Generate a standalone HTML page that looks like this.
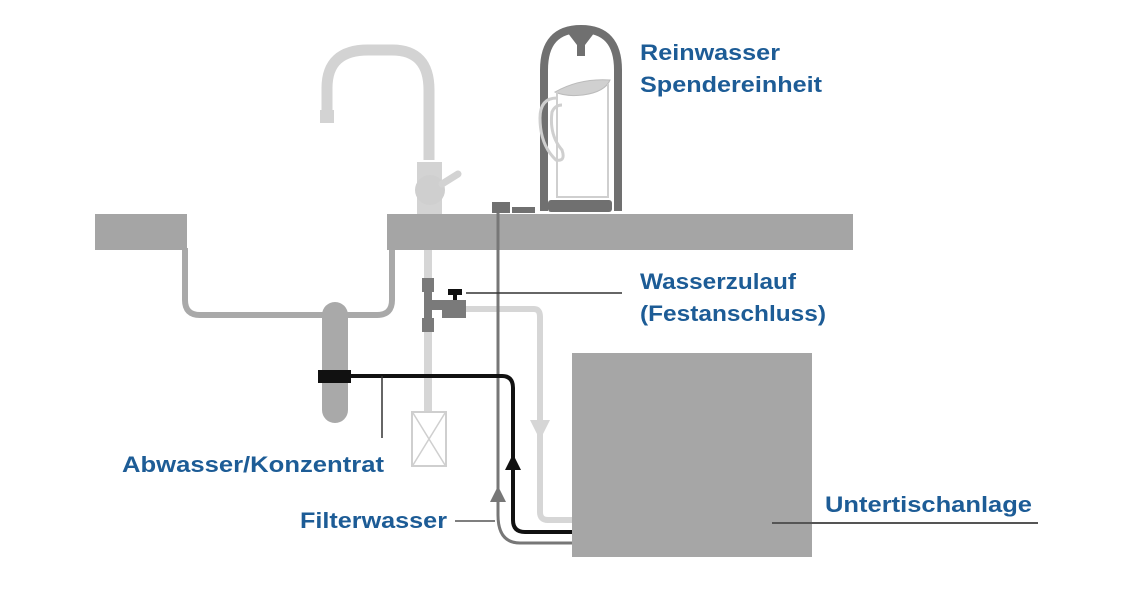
<!DOCTYPE html>
<html><head><meta charset="utf-8"><style>
html,body{margin:0;padding:0;background:#fff;}
svg{display:block;}
text{font-family:"Liberation Sans",sans-serif;font-weight:bold;fill:#1d5c96;font-size:22px;}
</style></head><body>
<svg width="1123" height="600" viewBox="0 0 1123 600" xmlns="http://www.w3.org/2000/svg">
<rect width="1123" height="600" fill="#fff"/>
<!-- sink -->
<path d="M185 248 V300 Q185 315 200 315 H377 Q392 315 392 300 V248" fill="none" stroke="#a9a9a9" stroke-width="6"/>
<path d="M335 315 V410" stroke="#a9a9a9" stroke-width="26" stroke-linecap="round"/>
<!-- counter -->
<rect x="95" y="214" width="92" height="36" fill="#a5a5a5"/>
<rect x="387" y="214" width="466" height="36" fill="#a5a5a5"/>
<!-- faucet -->
<path d="M327 112 V88 Q327 50 368 50 H392 Q429 50 429 90 V160" fill="none" stroke="#d3d3d3" stroke-width="11"/>
<rect x="320" y="110" width="14" height="13" fill="#d3d3d3"/>
<rect x="417" y="162" width="25" height="52" fill="#d3d3d3"/>
<circle cx="430" cy="190" r="15" fill="#cfcfcf"/>
<path d="M442 184 L458 174" stroke="#d3d3d3" stroke-width="7" stroke-linecap="round"/>
<!-- pipes below faucet -->
<path d="M428 250 V412" stroke="#d6d6d6" stroke-width="8"/>
<path d="M466 309 H534 Q540 309 540 317 V512 Q540 520 548 520 H572" fill="none" stroke="#d6d6d6" stroke-width="6"/>
<polygon points="530,420 550,420 540,440" fill="#d6d6d6"/>
<rect x="412" y="412" width="34" height="54" fill="#fff" stroke="#cfcfcf" stroke-width="2"/>
<path d="M413 413 L445 465 M445 413 L413 465" stroke="#cfcfcf" stroke-width="1.5"/>
<rect x="422" y="278" width="12" height="14" fill="#7a7a7a"/>
<rect x="422" y="318" width="12" height="14" fill="#7a7a7a"/>
<rect x="424" y="292" width="8" height="26" fill="#7a7a7a"/>
<rect x="432" y="300" width="10" height="10" fill="#7a7a7a"/>
<rect x="442" y="300" width="24" height="18" fill="#7a7a7a"/>
<rect x="448" y="289" width="14" height="6" fill="#111"/>
<rect x="453" y="293" width="4" height="7" fill="#111"/>
<!-- filter water line -->
<path d="M498 207 V515 Q498 543 520 543 H572" fill="none" stroke="#777" stroke-width="3"/>
<polygon points="490,502 506,502 498,486" fill="#777"/>
<!-- waste line -->
<path d="M345 376 H502 Q513 376 513 388 V520 Q513 532 525 532 H572" fill="none" stroke="#111" stroke-width="4"/>
<polygon points="505,470 521,470 513,454" fill="#111"/>
<rect x="318" y="370" width="33" height="13" fill="#111"/>
<!-- unit -->
<rect x="572" y="353" width="240" height="204" fill="#a6a6a6"/>
<!-- dispenser -->
<path d="M544 211 V70 Q544 29 581 29 Q618 29 618 70 V211" fill="none" stroke="#707070" stroke-width="8"/>
<polygon points="564,28 598,28 585,45 585,56 577,56 577,45" fill="#707070"/>
<rect x="548" y="200" width="64" height="12" rx="3" fill="#707070"/>
<path d="M555 92 Q580 78 610 80 Q605 92 583 95 Q566 97 555 92 Z" fill="#d0d0d0" stroke="#bbb"/>
<path d="M557 92 V197 H608 V84" fill="none" stroke="#cfcfcf" stroke-width="2"/>
<path d="M557 98 Q540 98 540 118 Q540 145 556 160 Q566 162 562 150 Q549 135 552 112 Q555 105 562 105" fill="none" stroke="#cfcfcf" stroke-width="3"/>
<rect x="492" y="202" width="18" height="11" fill="#707070"/>
<rect x="512" y="207" width="23" height="6" fill="#707070"/>
<!-- pointer lines -->
<path d="M466 293 H622" stroke="#333" stroke-width="1.5"/>
<path d="M382 376 V438" stroke="#333" stroke-width="1.5"/>
<path d="M455 521 H495" stroke="#555" stroke-width="1.5"/>
<path d="M772 523 H1038" stroke="#555" stroke-width="2"/>
<!-- labels -->
<text x="640" y="60" textLength="140" lengthAdjust="spacingAndGlyphs">Reinwasser</text>
<text x="640" y="92" textLength="182" lengthAdjust="spacingAndGlyphs">Spendereinheit</text>
<text x="640" y="289" textLength="156" lengthAdjust="spacingAndGlyphs">Wasserzulauf</text>
<text x="640" y="321" textLength="186" lengthAdjust="spacingAndGlyphs">(Festanschluss)</text>
<text x="122" y="472" textLength="262" lengthAdjust="spacingAndGlyphs">Abwasser/Konzentrat</text>
<text x="300" y="528" textLength="147" lengthAdjust="spacingAndGlyphs">Filterwasser</text>
<text x="825" y="512" textLength="207" lengthAdjust="spacingAndGlyphs">Untertischanlage</text>
</svg>
</body></html>
